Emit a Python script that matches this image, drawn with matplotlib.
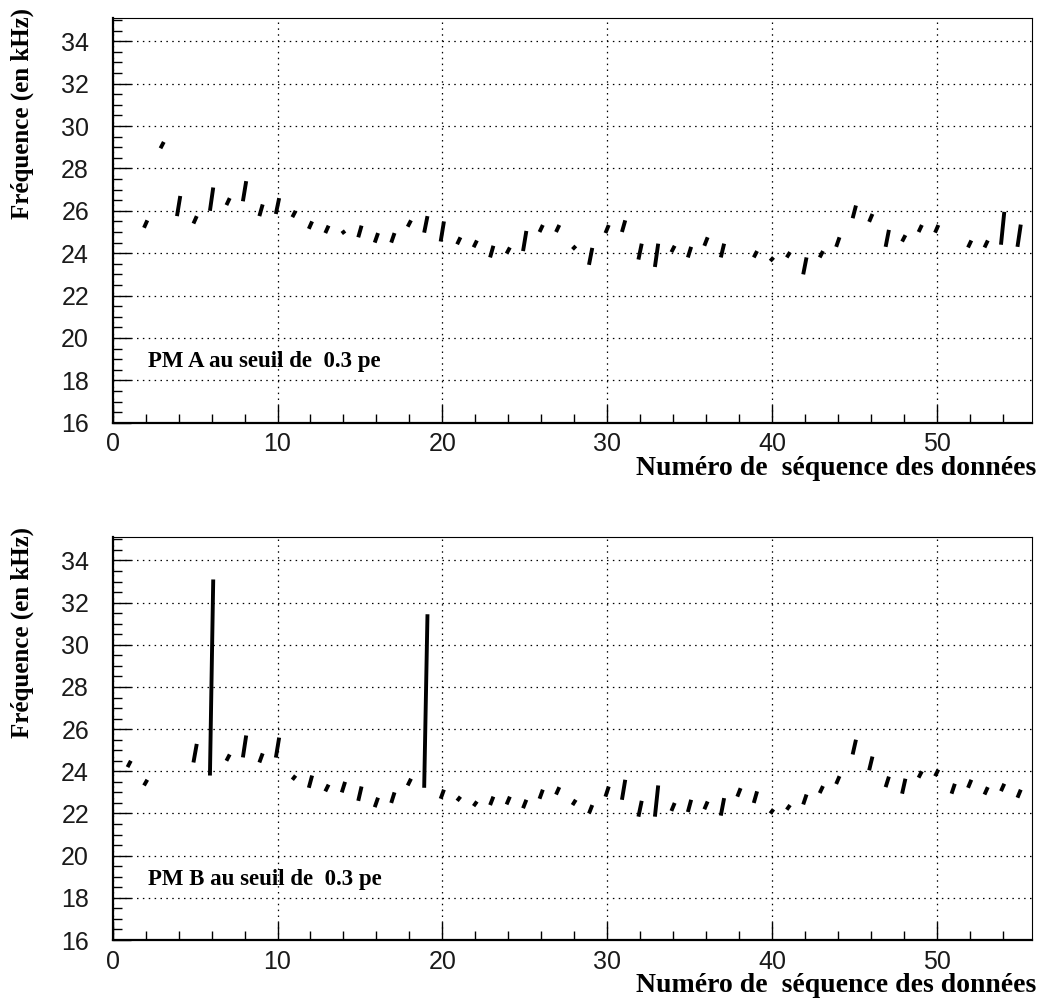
import matplotlib
matplotlib.use("Agg")
import matplotlib.pyplot as plt
from matplotlib.ticker import MultipleLocator

# ---- data: run number, lower and upper frequency (kHz) ----
runs_A = [2, 3, 4, 5, 6, 7, 8, 9, 10, 11, 12, 13, 14, 15, 16, 17, 18, 19, 20,
          21, 22, 23, 24, 25, 26, 27, 28, 29, 30, 31, 32, 33, 34, 35, 36, 37,
          39, 40, 41, 42, 43, 44, 45, 46, 47, 48, 49, 50, 52, 53, 54, 55]
low_A = [25.2, 28.95, 25.75, 25.4, 26.0, 26.27, 26.45, 25.75, 25.85, 25.7, 25.15,
         24.95, 24.93, 24.75, 24.5, 24.5, 25.25, 24.97, 24.55, 24.42, 24.28, 23.8,
         23.98, 24.1, 25.0, 25.0, 24.18, 23.45, 24.95, 25.0, 23.7, 23.35, 24.05,
         23.8, 24.35, 23.8, 23.8, 23.63, 23.8, 23.0, 23.8, 24.3, 25.65, 25.48,
         24.3, 24.55, 25.0, 24.97, 24.27, 24.27, 24.4, 24.3]
high_A = [25.55, 29.25, 26.7, 25.75, 27.1, 26.6, 27.4, 26.3, 26.6, 26.0, 25.5,
          25.3, 25.05, 25.3, 24.95, 24.95, 25.55, 25.75, 25.5, 24.75, 24.6, 24.35,
          24.27, 25.05, 25.33, 25.33, 24.34, 24.25, 25.33, 25.55, 24.45, 24.45, 24.35,
          24.3, 24.75, 24.45, 24.1, 23.8, 24.05, 23.8, 24.1, 24.75, 26.25, 25.85,
          25.1, 24.85, 25.33, 25.33, 24.6, 24.6, 25.95, 25.35]

runs_B = [1, 2, 5, 6, 7, 8, 9, 10, 11, 12, 13, 14, 15, 16, 17, 18, 19, 20, 21,
          22, 23, 24, 25, 26, 27, 28, 29, 30, 31, 32, 33, 34, 35, 36, 37, 38, 39,
          40, 41, 42, 43, 44, 45, 46, 47, 48, 49, 50, 51, 52, 53, 54, 55]
low_B = [24.2, 23.33, 24.42, 23.8, 24.5, 24.66, 24.42, 24.65, 23.6, 23.22, 23.05,
         23.0, 22.6, 22.3, 22.5, 23.33, 23.22, 22.7, 22.6, 22.35, 22.4, 22.43, 22.25,
         22.7, 22.9, 22.4, 22.0, 22.8, 22.65, 21.85, 21.85, 22.12, 22.07, 22.2, 21.9,
         22.8, 22.5, 22.0, 22.18, 22.43, 22.97, 23.4, 24.8, 24.05, 23.25, 22.94, 23.7,
         23.77, 22.94, 23.22, 22.9, 23.06, 22.75]
high_B = [24.5, 23.6, 25.3, 33.1, 24.8, 25.7, 24.85, 25.6, 23.8, 23.8, 23.37,
          23.5, 23.28, 22.75, 23.0, 23.65, 31.45, 23.13, 22.8, 22.57, 22.8, 22.8, 22.65,
          23.13, 23.25, 22.65, 22.4, 23.28, 23.6, 22.6, 23.33, 22.5, 22.65, 22.57, 22.73,
          23.2, 23.05, 22.2, 22.4, 22.9, 23.3, 23.77, 25.5, 24.7, 23.75, 23.65, 24.0,
          24.08, 23.41, 23.6, 23.25, 23.41, 23.13]

panel_labels = ["PM A au seuil de  0.3 pe", "PM B au seuil de  0.3 pe"]
xlabel = "Numéro de  séquence des données"
ylabel = "Fréquence (en kHz)"

W, H = 1044, 1006
fig = plt.figure(figsize=(W / 100, H / 100), dpi=100)

serif = ["Liberation Serif", "DejaVu Serif"]
sans = ["Liberation Sans", "DejaVu Sans"]

panels = [
    (runs_A, low_A, high_A, panel_labels[0], (112.7, 18, 1032.3, 422.7)),
    (runs_B, low_B, high_B, panel_labels[1], (112.7, 537.3, 1032.3, 940.0)),
]

for runs, lo, hi, lab, (x0, y0, x1, y1) in panels:
    ax = fig.add_axes([x0 / W, 1 - y1 / H, (x1 - x0) / W, (y1 - y0) / H])
    ax.set_xlim(0, 55.8)
    ax.set_ylim(16, 35.1)
    d = 0.1
    for x, a, b in zip(runs, lo, hi):
        ax.plot([x - d, x + d], [a, b], color="black", lw=2.8,
                solid_capstyle="butt", zorder=3)
    ax.xaxis.set_major_locator(MultipleLocator(10))
    ax.xaxis.set_minor_locator(MultipleLocator(2))
    ax.yaxis.set_major_locator(MultipleLocator(2))
    ax.yaxis.set_minor_locator(MultipleLocator(0.5))
    ax.grid(True, which="major", color="black", lw=0.9,
            linestyle=(0, (1.2, 3.5)))
    ax.tick_params(which="major", direction="in", length=13, width=1.0,
                   top=False, right=False, labelsize=18)
    ax.tick_params(which="minor", direction="in", length=6.5, width=1.0,
                   top=False, right=False)
    ax.tick_params(axis="x", which="major", pad=7)
    ax.tick_params(axis="y", which="major", pad=17)
    for t in ax.get_xticklabels() + ax.get_yticklabels():
        t.set_family(sans)
        t.set_color("#1a1a1a")
    for s in ["left", "bottom"]:
        ax.spines[s].set_linewidth(1.6)
    for s in ["top", "right"]:
        ax.spines[s].set_linewidth(0.8)
    fig.text(148 / W, 1 - (y0 + (y1 - y0) * 0.85) / H, lab, family=serif,
             fontweight="bold", fontsize=16.5, ha="left", va="center")
    fig.text(1036 / W, 1 - (y1 + 46) / H, xlabel, family=serif,
             fontweight="bold", fontsize=20, ha="right", va="center")
    fig.text(22 / W, 1 - (y0 - 10) / H, ylabel, family=serif,
             fontweight="bold", fontsize=18, ha="center", va="top",
             rotation=90)

fig.savefig("out.png", dpi=100)
